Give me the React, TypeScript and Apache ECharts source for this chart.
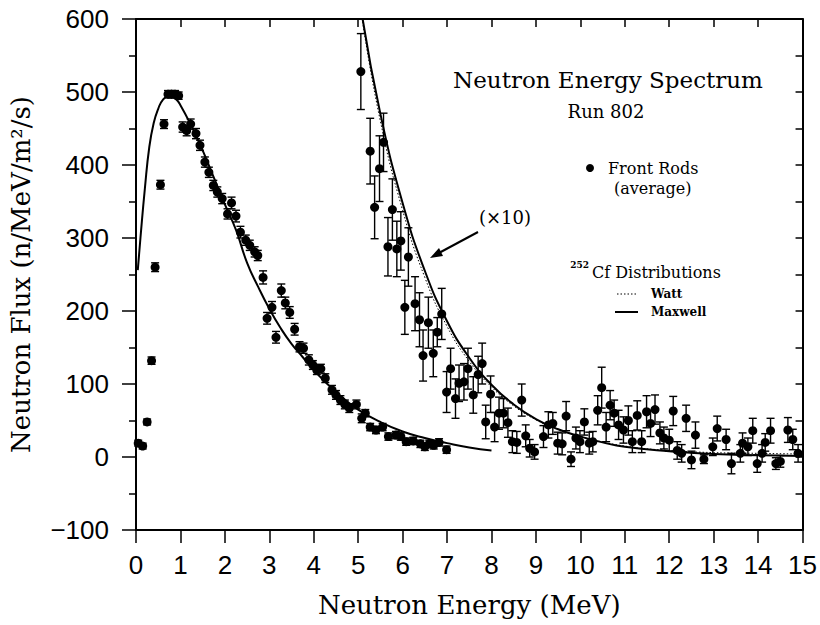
import React, { useEffect, useRef } from "react";
import * as echarts from "echarts";

// Front Rods (average), measured flux
const lowEnergy = [0.05, 0.15, 0.25, 0.35, 0.43, 0.55, 0.63, 0.72, 0.8, 0.88, 0.96, 1.05, 1.14, 1.23, 1.35, 1.44, 1.55, 1.64, 1.74, 1.83, 1.94, 2.06, 2.15, 2.25, 2.35, 2.47, 2.56, 2.67, 2.74, 2.86, 2.95, 3.06, 3.15, 3.27, 3.36, 3.46, 3.57, 3.68, 3.77, 3.89, 3.98, 4.07, 4.16, 4.26, 4.41, 4.5, 4.6, 4.7, 4.8, 4.96, 5.08, 5.16, 5.27, 5.4, 5.55, 5.68, 5.85, 5.96, 6.08, 6.24, 6.4, 6.5, 6.6, 6.7, 6.82, 6.99];
const lowFlux = [19, 15, 48, 132, 260, 373, 456, 497, 497, 497, 495, 452, 447, 456, 443, 427, 404, 390, 372, 363, 354, 333, 348, 330, 308, 297, 290, 281, 276, 246, 190, 205, 164, 228, 211, 198, 175, 151, 149, 133, 126, 119, 121, 108, 92, 85, 78, 72, 67, 72, 53, 60, 41, 37, 41, 28, 30, 28, 21, 22, 18, 14, 18, 16, 20, 10];
const lowErr = [4, 4, 4, 5, 6, 6, 6, 5, 5, 5, 5, 7, 7, 7, 7, 7, 7, 7, 7, 7, 7, 7, 8, 8, 8, 7, 7, 7, 7, 9, 8, 8, 8, 9, 8, 8, 8, 7, 7, 7, 6, 6, 6, 6, 6, 6, 6, 6, 6, 6, 6, 5, 5, 5, 5, 5, 5, 5, 5, 5, 5, 5, 5, 5, 5, 5];

// Same data scaled (x10)
const highEnergy = [5.06, 5.27, 5.37, 5.48, 5.57, 5.67, 5.77, 5.87, 5.96, 6.05, 6.13, 6.28, 6.38, 6.46, 6.58, 6.69, 6.78, 6.88, 6.99, 7.08, 7.19, 7.27, 7.38, 7.47, 7.59, 7.7, 7.79, 7.87, 7.98, 8.07, 8.17, 8.27, 8.37, 8.47, 8.57, 8.68, 8.77, 8.86, 8.97, 9.17, 9.28, 9.38, 9.49, 9.59, 9.68, 9.79, 9.9, 9.99, 10.09, 10.2, 10.28, 10.39, 10.48, 10.58, 10.67, 10.76, 10.86, 10.97, 11.08, 11.17, 11.28, 11.38, 11.49, 11.58, 11.68, 11.79, 11.88, 12.0, 12.09, 12.18, 12.28, 12.38, 12.5, 12.59, 12.78, 12.98, 13.08, 13.28, 13.4, 13.6, 13.65, 13.77, 13.88, 13.98, 14.09, 14.16, 14.28, 14.4, 14.5, 14.67, 14.78, 14.9];
const highFlux = [528, 419, 342, 395, 431, 288, 339, 285, 296, 205, 274, 210, 188, 139, 184, 142, 171, 196, 89, 121, 80, 101, 103, 121, 85, 113, 128, 48, 86, 41, 60, 60, 47, 21, 20, 78, 29, 12, 7, 28, 44, 46, 19, 18, 56, -3, 26, 21, 48, 19, 21, 64, 95, 41, 71, 60, 44, 37, 50, 21, 57, 21, 62, 46, 65, 33, 26, 23, 63, 9, 5, 53, -4, 30, -3, 14, 39, 24, -9, 5, 19, 14, 36, -9, 5, 20, 36, -9, -6, 37, 24, 5];
const highErr = [52, 45, 43, 45, 40, 40, 42, 38, 40, 37, 40, 37, 37, 35, 35, 32, 20, 35, 28, 28, 27, 25, 25, 28, 25, 25, 28, 23, 25, 20, 22, 20, 20, 15, 15, 22, 15, 12, 10, 15, 18, 15, 15, 15, 20, 10, 15, 15, 18, 15, 14, 20, 28, 20, 20, 18, 20, 18, 20, 15, 20, 15, 22, 18, 20, 15, 15, 15, 20, 12, 12, 18, 12, 18, 6, 12, 17, 14, 14, 12, 14, 12, 17, 12, 12, 12, 17, 8, 8, 17, 14, 12];

// 252Cf distributions
const maxwellLowEnergy = [0.04, 0.1, 0.2, 0.3, 0.4, 0.5, 0.6, 0.75, 0.9, 1.0, 1.25, 1.5, 1.75, 2.0, 2.25, 2.5, 2.75, 3.0, 3.25, 3.5, 3.75, 4.0, 4.5, 5.0, 5.5, 6.0, 6.5, 7.0, 7.5, 8.0];
const maxwellLowFlux = [256, 300, 368, 425, 458, 477, 489, 495, 490, 482, 453, 420, 383, 346, 311, 266, 233, 203, 177, 155, 137, 119, 89, 65, 48, 35, 26, 19, 13, 9];
const maxwellHighEnergy = [5.1, 5.5, 6.0, 6.5, 7.0, 7.5, 8.0, 8.5, 9.0, 9.5, 10.0, 10.5, 11.0, 12.0, 13.0, 14.0, 15.0];
const maxwellHighFlux = [600, 470, 348, 255, 186, 136, 99, 72, 52, 38, 28, 20, 14, 8, 4, 2.5, 1.5];
const wattHighEnergy = [5.1, 5.5, 6.0, 6.5, 7.0, 7.5, 8.0, 8.5, 9.0, 9.5, 10.0, 11.0, 12.0, 13.0, 14.0, 15.0];
const wattHighFlux = [596, 460, 338, 246, 179, 131, 96, 70, 51, 38, 28, 15, 9, 6, 5, 4];

const serif = '"DejaVu Serif", "Liberation Serif", serif';
const sans = '"Liberation Sans", Arial, sans-serif';

function pairs(xs: number[], ys: number[]) {
  return xs.map((x, i) => [x, ys[i]]);
}
function errRows(xs: number[], ys: number[], es: number[]) {
  return xs.map((x, i) => [x, ys[i] - es[i], ys[i] + es[i]]);
}

const errorBarItem = (params: any, api: any) => {
  const x = api.value(0);
  const lo = api.coord([x, api.value(1)]);
  const hi = api.coord([x, api.value(2)]);
  const w = 4;
  const st = { stroke: "#000", lineWidth: 1.4 };
  return {
    type: "group",
    children: [
      { type: "line", shape: { x1: lo[0], y1: lo[1], x2: hi[0], y2: hi[1] }, style: st },
      { type: "line", shape: { x1: hi[0] - w, y1: hi[1], x2: hi[0] + w, y2: hi[1] }, style: st },
      { type: "line", shape: { x1: lo[0] - w, y1: lo[1], x2: lo[0] + w, y2: lo[1] }, style: st },
    ],
  };
};

export default function App() {
  const ref = useRef<HTMLDivElement>(null);
  useEffect(() => {
    document.body.style.margin = "0";
    const chart = echarts.init(ref.current!, null, { renderer: "svg" });
    const axisLine = { lineStyle: { color: "#000", width: 2 } };
    chart.setOption({
      animation: false,
      backgroundColor: "#fff",
      grid: { left: 135, right: 16, top: 19, bottom: 95, containLabel: false },
      xAxis: [
        {
          type: "value",
          position: "bottom",
          min: 0,
          max: 15,
          interval: 1,
          axisLine: { ...axisLine, onZero: false },
          axisTick: { show: true, length: 13, lineStyle: { color: "#000", width: 1.5 } },
          axisLabel: { color: "#000", fontSize: 26, fontFamily: sans, margin: 22 },
          splitLine: { show: false },
          name: "Neutron Energy (MeV)",
          nameLocation: "middle",
          nameGap: 62,
          nameTextStyle: { color: "#000", fontSize: 26, fontFamily: serif },
        },
        {
          type: "value",
          position: "top",
          min: 0,
          max: 15,
          interval: 1,
          axisLine: { ...axisLine, onZero: false },
          axisTick: { show: true, inside: true, length: 8, lineStyle: { color: "#000", width: 1.5 } },
          axisLabel: { show: false },
          splitLine: { show: false },
        },
      ],
      yAxis: [
        {
          type: "value",
          position: "left",
          min: -100,
          max: 600,
          interval: 100,
          axisLine: { ...axisLine, onZero: false },
          axisTick: { show: true, length: 14, lineStyle: { color: "#000", width: 1.5 } },
          minorTick: { show: true, splitNumber: 2, length: 7, lineStyle: { color: "#000", width: 1.5 } },
          axisLabel: {
            color: "#000",
            fontSize: 26,
            fontFamily: sans,
            margin: 27,
            formatter: (v: number) => (v < 0 ? "\u2212" + Math.abs(v) : String(v)),
          },
          splitLine: { show: false },
          name: "Neutron Flux (n/MeV/m\u00b2/s)",
          nameLocation: "middle",
          nameGap: 102,
          nameTextStyle: { color: "#000", fontSize: 26, fontFamily: serif },
        },
        {
          type: "value",
          position: "right",
          min: -100,
          max: 600,
          interval: 50,
          axisLine: { ...axisLine, onZero: false },
          axisTick: { show: true, inside: true, length: 7, lineStyle: { color: "#000", width: 1.5 } },
          axisLabel: { show: false },
          splitLine: { show: false },
        },
      ],
      series: [
        {
          name: "Maxwell",
          type: "line",
          data: pairs(maxwellLowEnergy, maxwellLowFlux),
          smooth: true,
          symbol: "none",
          lineStyle: { color: "#000", width: 2 },
          z: 3,
        },
        {
          name: "Watt (x10)",
          type: "line",
          data: pairs(wattHighEnergy, wattHighFlux),
          smooth: true,
          symbol: "none",
          lineStyle: { color: "#000", width: 1, type: [1.5, 2] },
          z: 3,
        },
        {
          name: "Maxwell (x10)",
          type: "line",
          data: pairs(maxwellHighEnergy, maxwellHighFlux),
          smooth: true,
          symbol: "none",
          lineStyle: { color: "#000", width: 2 },
          z: 3,
        },
        {
          type: "custom",
          renderItem: errorBarItem,
          data: errRows(lowEnergy, lowFlux, lowErr),
          encode: { x: 0, y: [1, 2] },
          z: 4,
        },
        {
          type: "custom",
          renderItem: errorBarItem,
          data: errRows(highEnergy, highFlux, highErr),
          encode: { x: 0, y: [1, 2] },
          z: 4,
        },
        {
          name: "Front Rods",
          type: "scatter",
          data: pairs(lowEnergy, lowFlux),
          symbol: "circle",
          symbolSize: 9,
          itemStyle: { color: "#000", opacity: 1 },
          z: 5,
        },
        {
          name: "Front Rods (x10)",
          type: "scatter",
          data: pairs(highEnergy, highFlux),
          symbol: "circle",
          symbolSize: 9,
          itemStyle: { color: "#000", opacity: 1 },
          z: 5,
        },
      ],
      graphic: [
        {
          type: "text",
          x: 608,
          y: 80,
          style: { text: "Neutron Energy Spectrum", fontFamily: serif, fontSize: 23, fill: "#000", align: "center", verticalAlign: "middle" },
        },
        {
          type: "text",
          x: 606,
          y: 111,
          style: { text: "Run 802", fontFamily: serif, fontSize: 18, fill: "#000", align: "center", verticalAlign: "middle" },
        },
        { type: "circle", shape: { cx: 590, cy: 168, r: 4 }, style: { fill: "#000" } },
        {
          type: "text",
          x: 608,
          y: 168,
          style: { text: "Front Rods", fontFamily: serif, fontSize: 16, fill: "#000", align: "left", verticalAlign: "middle" },
        },
        {
          type: "text",
          x: 614,
          y: 188,
          style: { text: "(average)", fontFamily: serif, fontSize: 16, fill: "#000", align: "left", verticalAlign: "middle" },
        },
        {
          type: "text",
          x: 505,
          y: 217,
          style: { text: "(\u00d710)", fontFamily: serif, fontSize: 18, fill: "#000", align: "center", verticalAlign: "middle" },
        },
        { type: "line", shape: { x1: 478, y1: 232, x2: 437, y2: 254 }, style: { stroke: "#000", lineWidth: 2 } },
        { type: "polygon", shape: { points: [[430, 258], [439, 248], [443, 256]] }, style: { fill: "#000" } },
        {
          type: "text",
          x: 589,
          y: 265,
          style: { text: "252", fontFamily: serif, fontSize: 9, fill: "#000", align: "right", verticalAlign: "middle", fontWeight: "bold" },
        },
        {
          type: "text",
          x: 592,
          y: 272,
          style: { text: "Cf Distributions", fontFamily: serif, fontSize: 16, fill: "#000", align: "left", verticalAlign: "middle" },
        },
        { type: "line", shape: { x1: 617, y1: 294, x2: 638, y2: 294 }, style: { stroke: "#000", lineWidth: 1, lineDash: [1.5, 2] } },
        {
          type: "text",
          x: 651,
          y: 294,
          style: { text: "Watt", fontFamily: serif, fontSize: 12, fontWeight: "bold", fill: "#000", align: "left", verticalAlign: "middle" },
        },
        { type: "line", shape: { x1: 615, y1: 312, x2: 638, y2: 312 }, style: { stroke: "#000", lineWidth: 2 } },
        {
          type: "text",
          x: 651,
          y: 312,
          style: { text: "Maxwell", fontFamily: serif, fontSize: 12, fontWeight: "bold", fill: "#000", align: "left", verticalAlign: "middle" },
        },
      ],
    });
    return () => chart.dispose();
  }, []);
  return <div ref={ref} style={{ width: 820, height: 625 }} />;
}
